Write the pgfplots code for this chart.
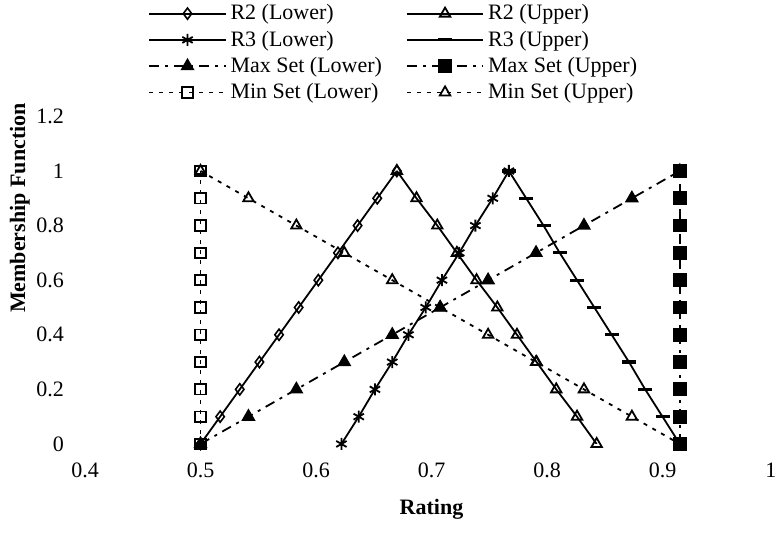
\documentclass[border=0pt]{standalone}
\usepackage{fontspec}
\setmainfont{Liberation Serif}
\usepackage{pgfplots}
\pgfplotsset{compat=1.18}
\newcommand{\ff}{\fontsize{11}{13}\selectfont}
\begin{document}
\begin{tikzpicture}
\begin{axis}[
  scale only axis,
  width=346.5pt, height=163.8pt,
  xmin=0.4, xmax=1, ymin=0, ymax=1.2,
  xtick={0.4,0.5,0.6,0.7,0.8,0.9},
  extra x ticks={1},
  extra x tick style={xticklabel style={xshift=-3.5pt}},
  ytick={0,0.2,0.4,0.6,0.8,1,1.2},
  /pgf/number format/assume math mode=true,
  axis lines*=left,
  axis line style={draw=none},
  major tick length=0pt,
  tick label style={font=\ff},
  xticklabel style={yshift=-6pt},
  yticklabel style={xshift=-7pt},
  xlabel={Rating}, ylabel={Membership Function},
  label style={font=\ff\bfseries},
  xlabel style={at={(axis description cs:0.5,-0.20)}, anchor=center},
  ylabel style={at={(axis description cs:-0.094,0.72)}, anchor=center},
  legend columns=2,
  legend cell align=left,
  legend style={at={(axis description cs:0.091,1.355)}, anchor=north west,
    draw=none, fill=none, font=\ff, inner sep=0pt, row sep=0pt,
    /tikz/every even column/.append style={column sep=10pt}},
  legend image code/.code={\draw[mark repeat=2,mark phase=2] plot coordinates {(0cm,0cm) (0.67cm,0cm) (1.34cm,0cm)};},
  every axis plot/.append style={black, line width=0.9pt},
]
% R2 (Lower)
\addplot[solid, mark=diamond, mark size=2.8pt, mark options={solid, fill=white, line width=0.8pt}] coordinates {
(0.5,0) (0.517,0.1) (0.534,0.2) (0.551,0.3) (0.568,0.4) (0.585,0.5) (0.602,0.6) (0.619,0.7) (0.636,0.8) (0.653,0.9) (0.67,1)};
\addlegendentry{R2 (Lower)}
% R2 (Upper)
\addplot[solid, mark=triangle, mark size=3pt, mark options={solid, fill=white, line width=0.9pt}] coordinates {
(0.67,1) (0.687,0.9) (0.705,0.8) (0.722,0.7) (0.739,0.6) (0.757,0.5) (0.774,0.4) (0.791,0.3) (0.808,0.2) (0.826,0.1) (0.843,0)};
\addlegendentry{R2 (Upper)}
% R3 (Lower)
\addplot[solid, mark=asterisk, mark size=3pt, mark options={solid, line width=0.9pt}] coordinates {
(0.622,0) (0.637,0.1) (0.651,0.2) (0.666,0.3) (0.680,0.4) (0.695,0.5) (0.709,0.6) (0.724,0.7) (0.738,0.8) (0.753,0.9) (0.767,1)};
\addlegendentry{R3 (Lower)}
% R3 (Upper)
\addplot[solid, mark=-, mark size=3.5pt, mark options={solid, line width=1.6pt}] coordinates {
(0.767,1) (0.782,0.9) (0.797,0.8) (0.811,0.7) (0.826,0.6) (0.841,0.5) (0.856,0.4) (0.871,0.3) (0.885,0.2) (0.900,0.1) (0.915,0)};
\addlegendentry{R3 (Upper)}
% Max Set (Lower)
\addplot[dash pattern=on 5pt off 3pt on 1.5pt off 3pt, mark=triangle*, mark size=3.2pt, mark options={solid, fill=black}] coordinates {
(0.5,0) (0.5415,0.1) (0.583,0.2) (0.6245,0.3) (0.666,0.4) (0.7075,0.5) (0.749,0.6) (0.7905,0.7) (0.832,0.8) (0.8735,0.9) (0.915,1)};
\addlegendentry{Max Set (Lower)}
% Max Set (Upper)
\addplot[dash pattern=on 5pt off 3pt on 1.5pt off 3pt, mark=square*, mark size=3pt, mark options={solid, fill=black}] coordinates {
(0.915,0) (0.915,0.1) (0.915,0.2) (0.915,0.3) (0.915,0.4) (0.915,0.5) (0.915,0.6) (0.915,0.7) (0.915,0.8) (0.915,0.9) (0.915,1)};
\addlegendentry{Max Set (Upper)}
% Min Set (Lower)
\addplot[dash pattern=on 2pt off 3pt, mark=square, mark size=2.6pt, mark options={solid, fill=white, line width=0.9pt}] coordinates {
(0.5,0) (0.5,0.1) (0.5,0.2) (0.5,0.3) (0.5,0.4) (0.5,0.5) (0.5,0.6) (0.5,0.7) (0.5,0.8) (0.5,0.9) (0.5,1)};
\addlegendentry{Min Set (Lower)}
% Min Set (Upper)
\addplot[dash pattern=on 2pt off 3pt, mark=triangle, mark size=3pt, mark options={solid, fill=white, line width=0.9pt}] coordinates {
(0.5,1) (0.5415,0.9) (0.583,0.8) (0.6245,0.7) (0.666,0.6) (0.7075,0.5) (0.749,0.4) (0.7905,0.3) (0.832,0.2) (0.8735,0.1) (0.915,0)};
\addlegendentry{Min Set (Upper)}
\coordinate (bbsw) at (axis description cs:-0.1227,-0.2717);
\coordinate (bbne) at (axis description cs:0.9957,1.3553);
\end{axis}
\pgfresetboundingbox
\path[use as bounding box] (bbsw) rectangle (bbne);
\end{tikzpicture}
\end{document}
